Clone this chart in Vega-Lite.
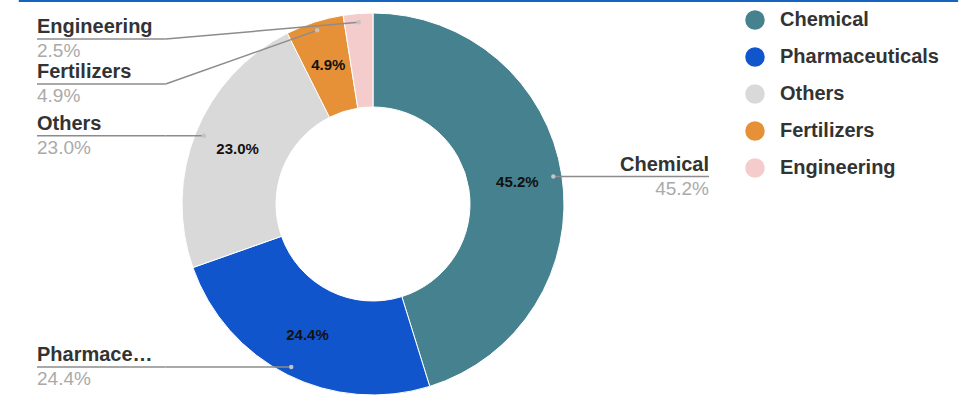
{
  "$schema": "https://vega.github.io/schema/vega-lite/v6.json",
  "width": 746,
  "height": 408,
  "padding": 0,
  "background": "white",
  "config": {"view": {"stroke": null}, "font": "Liberation Sans"},
  "data": {"values": [
    {"category": "Chemical", "value": 45.2},
    {"category": "Pharmaceuticals", "value": 24.4},
    {"category": "Others", "value": 23.0},
    {"category": "Fertilizers", "value": 4.9},
    {"category": "Engineering", "value": 2.5}
  ]},
  "transform": [
    {"joinaggregate": [{"op": "sum", "field": "value", "as": "total"}]},
    {"window": [{"op": "sum", "field": "value", "as": "cum"}], "sort": [{"field": "value", "order": "descending"}], "frame": [null, 0]},
    {"calculate": "2*PI*(datum.cum - datum.value/2)/datum.total", "as": "mid"},
    {"calculate": "0.95*sin(datum.mid)", "as": "dotX"},
    {"calculate": "0.95*cos(datum.mid)", "as": "dotY"},
    {"calculate": "datum.dotX < 0 ? 'left' : 'right'", "as": "side"},
    {"window": [{"op": "row_number", "as": "rank"}], "groupby": ["side"], "sort": [{"field": "dotY", "order": "descending"}]},
    {"calculate": "min(datum.dotY, 0.859 - 0.234*(datum.rank-1))", "as": "labelY"},
    {"calculate": "datum.side == 'left' ? -1.08 : datum.dotX", "as": "elbowX"},
    {"calculate": "datum.side == 'left' ? -1.75 : 1.75", "as": "endX"},
    {"calculate": "format(datum.value, '.1f') + '%'", "as": "pct"},
    {"calculate": "datum.value > 3 ? datum.pct : ''", "as": "inLabel"}
  ],
  "layer": [
    {
      "mark": {"type": "arc", "outerRadius": 191, "innerRadius": 97, "stroke": "white", "strokeWidth": 1},
      "encoding": {
        "theta": {"field": "value", "type": "quantitative", "stack": true},
        "order": {"field": "value", "sort": "descending"},
        "color": {
          "field": "category", "type": "nominal",
          "scale": {"domain": ["Chemical", "Pharmaceuticals", "Others", "Fertilizers", "Engineering"],
                    "range": ["#45818e", "#1155cc", "#d9d9d9", "#e69138", "#f4cccc"]},
          "legend": {
            "title": null, "orient": "none", "legendX": 745, "legendY": 10,
            "symbolType": "circle", "symbolSize": 380, "symbolStrokeWidth": 0,
            "labelFontSize": 20, "labelFontWeight": "bold", "labelColor": "#333333",
            "labelOffset": 15, "rowPadding": 17, "labelLimit": 250
          }
        }
      }
    },
    {
      "mark": {"type": "text", "radius": 146, "fontSize": 15, "fontWeight": "bold", "color": "#111111"},
      "encoding": {
        "theta": {"field": "value", "type": "quantitative", "stack": true},
        "order": {"field": "value", "sort": "descending"},
        "detail": {"field": "category"},
        "text": {"field": "inLabel"}
      }
    },
    {
      "mark": {"type": "rule", "color": "#1565c0", "strokeWidth": 2},
      "encoding": {
        "x": {"datum": -1.844, "type": "quantitative", "scale": {"domain": [-1.9427, 1.9427], "nice": false}, "axis": null},
        "x2": {"datum": 3.047},
        "y": {"datum": 1.057, "type": "quantitative", "scale": {"domain": [-1.0625, 1.0625], "nice": false}, "axis": null}
      }
    },
    {
      "mark": {"type": "rule", "color": "#8c8c8c", "strokeWidth": 1.5},
      "encoding": {
        "x": {"field": "dotX", "type": "quantitative", "scale": {"domain": [-1.9427, 1.9427], "nice": false}, "axis": null},
        "y": {"field": "dotY", "type": "quantitative", "scale": {"domain": [-1.0625, 1.0625], "nice": false}, "axis": null},
        "x2": {"field": "elbowX"},
        "y2": {"field": "labelY"}
      }
    },
    {
      "mark": {"type": "rule", "color": "#8c8c8c", "strokeWidth": 1.5},
      "encoding": {
        "x": {"field": "elbowX", "type": "quantitative"},
        "y": {"field": "labelY", "type": "quantitative"},
        "x2": {"field": "endX"}
      }
    },
    {
      "mark": {"type": "circle", "size": 20, "color": "#c4c4c4", "opacity": 1},
      "encoding": {
        "x": {"field": "dotX", "type": "quantitative"},
        "y": {"field": "dotY", "type": "quantitative"}
      }
    },
    {
      "transform": [{"filter": "datum.side == 'left'"}],
      "mark": {"type": "text", "align": "left", "baseline": "alphabetic", "dy": -6, "fontSize": 20, "fontWeight": "bold", "color": "#333333", "limit": 118},
      "encoding": {
        "x": {"field": "endX", "type": "quantitative"},
        "y": {"field": "labelY", "type": "quantitative"},
        "text": {"field": "category"}
      }
    },
    {
      "transform": [{"filter": "datum.side == 'left'"}],
      "mark": {"type": "text", "align": "left", "baseline": "alphabetic", "dy": 18, "fontSize": 19, "color": "#aaaaaa"},
      "encoding": {
        "x": {"field": "endX", "type": "quantitative"},
        "y": {"field": "labelY", "type": "quantitative"},
        "text": {"field": "pct"}
      }
    },
    {
      "transform": [{"filter": "datum.side == 'right'"}],
      "mark": {"type": "text", "align": "right", "baseline": "alphabetic", "dy": -6, "fontSize": 20, "fontWeight": "bold", "color": "#333333"},
      "encoding": {
        "x": {"field": "endX", "type": "quantitative"},
        "y": {"field": "labelY", "type": "quantitative"},
        "text": {"field": "category"}
      }
    },
    {
      "transform": [{"filter": "datum.side == 'right'"}],
      "mark": {"type": "text", "align": "right", "baseline": "alphabetic", "dy": 18, "fontSize": 19, "color": "#aaaaaa"},
      "encoding": {
        "x": {"field": "endX", "type": "quantitative"},
        "y": {"field": "labelY", "type": "quantitative"},
        "text": {"field": "pct"}
      }
    }
  ]
}
